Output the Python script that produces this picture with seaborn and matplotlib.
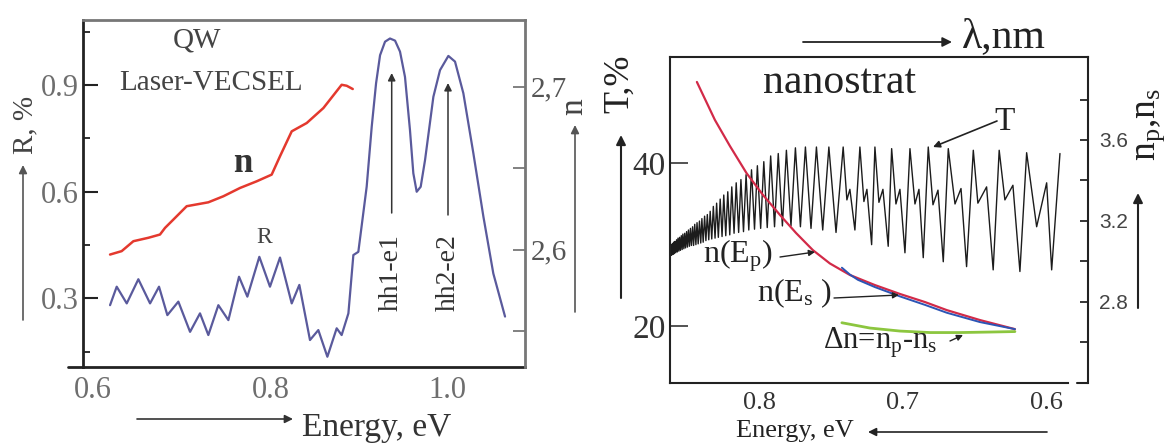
import matplotlib
matplotlib.use("Agg")
import matplotlib.pyplot as plt
import seaborn as sns
import pandas as pd
from matplotlib.ticker import FixedLocator, FixedFormatter

# ---------------- data: left panel (QW Laser-VECSEL) ----------------
energy_R = [0.6192, 0.6267, 0.6380, 0.6511, 0.6643, 0.6744, 0.6838, 0.6962, 0.7094, 0.7206,
            0.7300, 0.7413, 0.7526, 0.7646, 0.7740, 0.7875, 0.7995, 0.8108, 0.8240, 0.8326,
            0.8446, 0.8540, 0.8642, 0.8747, 0.8803, 0.8879, 0.8935, 0.8991, 0.9085, 0.9142,
            0.9191, 0.9236, 0.9292, 0.9348, 0.9405, 0.9461, 0.9517, 0.9573, 0.9611, 0.9649,
            0.9694, 0.9743, 0.9837, 0.9912, 1.0006, 1.0081, 1.0175, 1.0288, 1.0401, 1.0513,
            1.0645]
reflect_R = [0.281, 0.333, 0.286, 0.354, 0.286, 0.333, 0.253, 0.291, 0.206, 0.258,
             0.197, 0.281, 0.239, 0.361, 0.305, 0.417, 0.333, 0.415, 0.286, 0.338,
             0.183, 0.211, 0.136, 0.216, 0.197, 0.258, 0.422, 0.431, 0.614, 0.783,
             0.905, 0.984, 1.022, 1.031, 1.025, 0.994, 0.923, 0.774, 0.652, 0.600,
             0.614, 0.689, 0.867, 0.942, 0.982, 0.966, 0.877, 0.708, 0.530, 0.370,
             0.249]
energy_n = [0.6192, 0.6323, 0.6455, 0.6624, 0.6755, 0.6812, 0.6906, 0.7056, 0.7300, 0.7469,
            0.7657, 0.7845, 0.8014, 0.8108, 0.8240, 0.8409, 0.8597, 0.8803, 0.8860, 0.8928]
index_n = [2.5969, 2.5990, 2.6051, 2.6072, 2.6092, 2.6133, 2.6184, 2.6266, 2.6290, 2.6327,
           2.6378, 2.6419, 2.6460, 2.6573, 2.6726, 2.6777, 2.6869, 2.7012, 2.7006, 2.6986]

# ---------------- data: right panel (nanostrat) ----------------
energy_T = [0.8629,
            0.8622, 0.8618, 0.8613, 0.8608, 0.8604, 0.8599, 0.8594, 0.8589, 0.8583, 0.8578,
            0.8573, 0.8567, 0.8562, 0.8556, 0.8550, 0.8544, 0.8539, 0.8532, 0.8526, 0.8520,
            0.8513, 0.8507, 0.8500, 0.8493, 0.8486, 0.8479, 0.8471, 0.8464, 0.8456, 0.8448,
            0.8440, 0.8432, 0.8423, 0.8414, 0.8406, 0.8397, 0.8387, 0.8378, 0.8368, 0.8358,
            0.8348, 0.8337, 0.8326, 0.8314, 0.8303, 0.8291, 0.8278, 0.8265, 0.8253, 0.8239,
            0.8225, 0.8211, 0.8197, 0.8181, 0.8166, 0.8149, 0.8133, 0.8115, 0.8097, 0.8078,
            0.8059, 0.8038, 0.8018, 0.7995, 0.7973, 0.7949, 0.7925, 0.7898, 0.7872, 0.7843,
            0.7815, 0.7783, 0.7752, 0.7717, 0.7682, 0.7643, 0.7605, 0.7561, 0.7518, 0.7468,
            0.7418, 0.7392, 0.7371, 0.7336,
            0.7301, 0.7273, 0.7252, 0.7219,
            0.7196, 0.7168, 0.7140, 0.7103,
            0.7079, 0.7049, 0.7021, 0.6986,
            0.6951, 0.6916, 0.6888, 0.6858,
            0.6823, 0.6790, 0.6755, 0.6718,
            0.6683, 0.6636, 0.6594, 0.6555,
            0.6508, 0.6476, 0.6415, 0.6369,
            0.6327, 0.6287, 0.6231, 0.6182,
            0.6135, 0.6065, 0.5995, 0.5960,
            0.5902]
trans_T = [29.7,
           30.0, 28.7, 30.1, 28.8, 30.3, 28.9, 30.4, 29.0, 30.6, 29.1,
           30.8, 29.2, 30.9, 29.3, 31.1, 29.4, 31.3, 29.5, 31.4, 29.6,
           31.6, 29.7, 31.8, 29.8, 32.0, 29.9, 32.2, 29.9, 32.5, 30.0,
           32.7, 30.1, 32.9, 30.2, 33.2, 30.3, 33.5, 30.5, 33.7, 30.6,
           34.1, 30.7, 34.7, 30.8, 35.1, 30.9, 35.6, 31.0, 36.1, 31.1,
           36.5, 31.2, 37.1, 31.4, 37.6, 31.5, 38.0, 31.6, 38.6, 31.8,
           39.2, 31.9, 39.7, 32.0, 40.2, 32.1, 40.9, 32.2, 41.2, 32.3,
           41.6, 32.3, 41.9, 32.2, 42.0, 32.0, 42.0, 31.8, 42.0, 31.5,
           42.0, 35.5, 36.8, 31.8,
           42.0, 35.3, 36.8, 30.0,
           42.0, 35.2, 36.8, 29.8,
           41.8, 35.0, 36.8, 29.0,
           41.8, 35.0, 36.8, 28.4,
           42.0, 34.9, 36.7, 27.9,
           41.8, 35.0, 36.9, 27.3,
           41.6, 35.1, 37.1, 26.9,
           41.6, 35.5, 37.3, 26.7,
           41.3, 32.2, 37.6, 26.9,
           41.2]
energy_np = [0.8441, 0.8315, 0.8210, 0.8093, 0.7979, 0.7860, 0.7748, 0.7630, 0.7511, 0.7371,
             0.7196, 0.7021, 0.6846, 0.6693, 0.6462, 0.6217]
index_np = [3.887, 3.699, 3.570, 3.435, 3.328, 3.229, 3.140, 3.055, 2.989, 2.932,
            2.882, 2.838, 2.798, 2.758, 2.709, 2.664]
energy_ns = [0.7427, 0.7371, 0.7315, 0.7196, 0.7021, 0.6846, 0.6693, 0.6462, 0.6217]
index_ns = [2.968, 2.934, 2.908, 2.872, 2.826, 2.784, 2.745, 2.699, 2.664]
energy_dn = [0.7427, 0.7231, 0.7021, 0.6811, 0.6601, 0.6392, 0.6217]
curve_dn = [2.6956, 2.6694, 2.6545, 2.6471, 2.6471, 2.6496, 2.6520]

# tick values / labels
left_x_ticks = [0.6, 0.7, 0.8, 0.9, 1.0]
left_x_labels = ["0.6", "", "0.8", "", "1.0"]
left_R_ticks = [0.3, 0.6, 0.9]
left_R_labels = ["0.3", "0.6", "0.9"]
left_R_minor = [0.15, 0.45, 0.75, 1.05]
left_n_ticks = [2.55, 2.6, 2.65, 2.7]
left_n_labels = ["", "2,6", "", "2,7"]
right_x_ticks = [0.8, 0.7, 0.6]
right_x_labels = ["0.8", "0.7", "0.6"]
right_x_minor = [0.85, 0.75, 0.65]
right_T_ticks = [20, 40]
right_T_labels = ["20", "40"]
right_n_ticks = [2.6, 2.8, 3.0, 3.2, 3.4, 3.6, 3.8]
right_n_labels = ["", "2.8", "", "3.2", "", "3.6", ""]

# ---------------- style ----------------
sns.set_style("white")
plt.rcParams["font.family"] = ["Liberation Serif", "DejaVu Serif"]
plt.rcParams["mathtext.fontset"] = "custom"
plt.rcParams["mathtext.rm"] = "Liberation Serif"
plt.rcParams["mathtext.it"] = "Liberation Serif:italic"
plt.rcParams["mathtext.default"] = "regular"

W, H = 1167, 444
fig = plt.figure(figsize=(W / 100, H / 100), dpi=100)


def fx(x):
    return x / W


def fy(y):
    return 1 - y / H


def arrow(x0, y0, x1, y1, color="#444444", lw=1.2, ms=12):
    fig.add_artist(matplotlib.patches.FancyArrowPatch(
        (fx(x0), fy(y0)), (fx(x1), fy(y1)), transform=fig.transFigure,
        arrowstyle="-|>", mutation_scale=ms, color=color, lw=lw,
        shrinkA=0, shrinkB=0))


# ================= LEFT PANEL =================
ax1 = fig.add_axes([fx(83), fy(366.7), (525 - 83) / W, (366.7 - 20) / H])
ax1b = ax1.twinx()

dfR = pd.DataFrame({"E": energy_R, "R": reflect_R})
dfn = pd.DataFrame({"E": energy_n, "n": index_n})
sns.lineplot(data=dfR, x="E", y="R", ax=ax1, color="#5a5a9c", linewidth=1.6,
             sort=False, estimator=None)
sns.lineplot(data=dfn, x="E", y="n", ax=ax1b, color="#e4392e", linewidth=1.8,
             sort=False, estimator=None)

ax1.set_xlim(0.5887, 1.087)
ax1.set_ylim(0.108, 1.083)
ax1b.set_ylim(2.528, 2.741)
for a in (ax1, ax1b):
    a.set_xlabel("")
    a.set_ylabel("")

ax1.xaxis.set_major_locator(FixedLocator(left_x_ticks))
ax1.xaxis.set_major_formatter(FixedFormatter(left_x_labels))
ax1.yaxis.set_major_locator(FixedLocator(left_R_ticks))
ax1.yaxis.set_major_formatter(FixedFormatter(left_R_labels))
ax1.yaxis.set_minor_locator(FixedLocator(left_R_minor))
ax1.tick_params(axis="x", which="major", direction="in", length=10, width=1.5,
                pad=7, labelsize=22, labelcolor="#6e6e6e", color="#222222")
ax1.tick_params(axis="y", which="major", direction="in", length=11, width=1.5,
                pad=3, labelsize=22, labelcolor="#6e6e6e", color="#222222")
ax1.tick_params(axis="y", which="minor", direction="in", length=5, width=1.3,
                color="#222222")
ax1b.yaxis.set_major_locator(FixedLocator(left_n_ticks))
ax1b.yaxis.set_major_formatter(FixedFormatter(left_n_labels))
ax1b.tick_params(axis="y", which="major", direction="in", length=9, width=1.3,
                 pad=4, labelsize=21, labelcolor="#555555", color="#777777")

for s in ("left", "bottom"):
    ax1.spines[s].set_color("#222222")
    ax1.spines[s].set_linewidth(2.0)
ax1.spines["top"].set_color("#777777")
ax1.spines["top"].set_linewidth(2.0)
ax1.spines["right"].set_visible(False)
for s in ("left", "bottom", "top"):
    ax1b.spines[s].set_visible(False)
ax1b.spines["right"].set_color("#777777")
ax1b.spines["right"].set_linewidth(2.0)
# bottom axis line extends a little to the left of the frame
ax1.plot([-0.034, 0], [0, 0], transform=ax1.transAxes, clip_on=False,
         color="#222222", lw=2.0)

fig.text(fx(197.5), fy(48), "QW", ha="center", va="baseline", fontsize=21, color="#444444")
fig.text(fx(210.7), fy(90), "Laser-VECSEL", ha="center", va="baseline", fontsize=21,
         color="#444444")
fig.text(fx(243), fy(171.7), "n", ha="center", va="baseline", fontsize=25,
         fontweight="bold", color="#333333")
fig.text(fx(264), fy(242.7), "R", ha="center", va="baseline", fontsize=17, color="#444444")
fig.text(fx(391.7), fy(273), "hh1-e1", rotation=90, ha="center", va="center",
         fontsize=20, color="#333333")
fig.text(fx(448), fy(273), "hh2-e2", rotation=90, ha="center", va="center",
         fontsize=20, color="#333333")
arrow(391.7, 213, 391.7, 73, color="#333333", lw=1.1, ms=11)
arrow(448, 215, 448, 83, color="#333333", lw=1.1, ms=11)
fig.text(fx(25), fy(125), "R, %", rotation=90, ha="center", va="center", fontsize=21,
         color="#444444")
arrow(23, 320, 23, 165, color="#555555", lw=1.2, ms=12)
fig.text(fx(574), fy(107), "n", rotation=90, ha="center", va="center", fontsize=24,
         color="#444444")
arrow(575, 312, 575, 125, color="#555555", lw=1.2, ms=12)
fig.text(fx(376.7), fy(436), "Energy, eV", ha="center", va="baseline", fontsize=24,
         color="#333333")
arrow(137, 419, 293, 419, color="#333333", lw=1.2, ms=12)

# ================= RIGHT PANEL =================
ax2 = fig.add_axes([fx(670), fy(383.3), (1087.7 - 670) / W, (383.3 - 56.7) / H])
ax2b = ax2.twinx()

dfT = pd.DataFrame({"E": energy_T, "T": trans_T})
dfp = pd.DataFrame({"E": energy_np, "n": index_np})
dfs = pd.DataFrame({"E": energy_ns, "n": index_ns})
dfd = pd.DataFrame({"E": energy_dn, "n": curve_dn})
sns.lineplot(data=dfT, x="E", y="T", ax=ax2, color="#1c1c1c", linewidth=1.0,
             sort=False, estimator=None)
sns.lineplot(data=dfd, x="E", y="n", ax=ax2b, color="#8cc63f", linewidth=2.0,
             sort=False, estimator=None)
sns.lineplot(data=dfp, x="E", y="n", ax=ax2b, color="#d22a48", linewidth=1.6,
             sort=False, estimator=None)
sns.lineplot(data=dfs, x="E", y="n", ax=ax2b, color="#2c55b5", linewidth=1.4,
             sort=False, estimator=None)

ax2.set_xlim(0.8629, 0.5708)
ax2.set_ylim(12.96, 53.1)
ax2b.set_ylim(2.396, 4.012)
for a in (ax2, ax2b):
    a.set_xlabel("")
    a.set_ylabel("")

ax2.xaxis.set_major_locator(FixedLocator(right_x_ticks))
ax2.xaxis.set_major_formatter(FixedFormatter(right_x_labels))
ax2.xaxis.set_minor_locator(FixedLocator(right_x_minor))
ax2.tick_params(axis="x", which="major", direction="in", length=5, width=1.2, pad=6,
                labelsize=19, labelcolor="#333333")
ax2.tick_params(axis="x", which="minor", direction="in", length=3, width=1.2)
ax2.yaxis.set_major_locator(FixedLocator(right_T_ticks))
ax2.yaxis.set_major_formatter(FixedFormatter(right_T_labels))
ax2.tick_params(axis="y", which="major", direction="in", length=13, width=1.3, pad=3,
                labelsize=24, labelcolor="#333333", color="#444444")
ax2b.yaxis.set_major_locator(FixedLocator(right_n_ticks))
ax2b.yaxis.set_major_formatter(FixedFormatter(right_n_labels))
ax2b.tick_params(axis="y", which="major", direction="in", length=6, width=1.3, pad=8,
                 labelsize=15, labelcolor="#444444", labelfontfamily="Liberation Sans")

for s in ("left", "bottom", "top"):
    ax2.spines[s].set_color("#222222")
    ax2.spines[s].set_linewidth(1.5)
ax2.spines["right"].set_visible(False)
ax2.spines["bottom"].set_bounds(0.8629, 0.5846)
for s in ("left", "bottom", "top"):
    ax2b.spines[s].set_visible(False)
ax2b.spines["right"].set_color("#222222")
ax2b.spines["right"].set_linewidth(1.5)
ax2.plot([0.974, 1.0], [0, 0], transform=ax2.transAxes, clip_on=False,
         color="#222222", lw=1.5)

fig.text(fx(839), fy(93), "nanostrat", ha="center", va="baseline", fontsize=30,
         color="#222222")
fig.text(fx(1004), fy(47), "λ,nm", ha="center", va="baseline", fontsize=30, color="#222222")
arrow(803, 42, 952, 42, color="#222222", lw=1.3, ms=14)
fig.text(fx(620), fy(84), "T,%", rotation=90, ha="center", va="center", fontsize=26,
         color="#222222")
arrow(621, 298, 621, 135, color="#222222", lw=1.5, ms=14)
fig.text(fx(1150), fy(125), "n$_p$,n$_s$", rotation=90, ha="center", va="center",
         fontsize=27, color="#222222")
arrow(1138, 308, 1138, 193, color="#222222", lw=1.5, ms=14)
fig.text(fx(1005), fy(130), "T", ha="center", va="baseline", fontsize=24, color="#222222")
arrow(997, 121, 933, 147, color="#222222", lw=1.2, ms=10)
fig.text(fx(738), fy(263), "n(E$_p$)", ha="center", va="baseline", fontsize=23,
         color="#222222")
arrow(780, 257, 815, 252, color="#222222", lw=1.0, ms=9)
fig.text(fx(795), fy(301.7), "n(E$_s$ )", ha="center", va="baseline", fontsize=23,
         color="#222222")
arrow(834, 298, 899, 295, color="#222222", lw=1.0, ms=9)
fig.text(fx(880), fy(348.3), "Δn=n$_p$-n$_s$", ha="center", va="baseline", fontsize=22,
         color="#222222")
arrow(950, 341, 963, 335, color="#222222", lw=1.0, ms=9)
fig.text(fx(795), fy(437), "Energy, eV", ha="center", va="baseline", fontsize=19,
         color="#222222")
arrow(1047, 432, 868, 432, color="#222222", lw=1.2, ms=12)

fig.savefig("out.png", dpi=100)
